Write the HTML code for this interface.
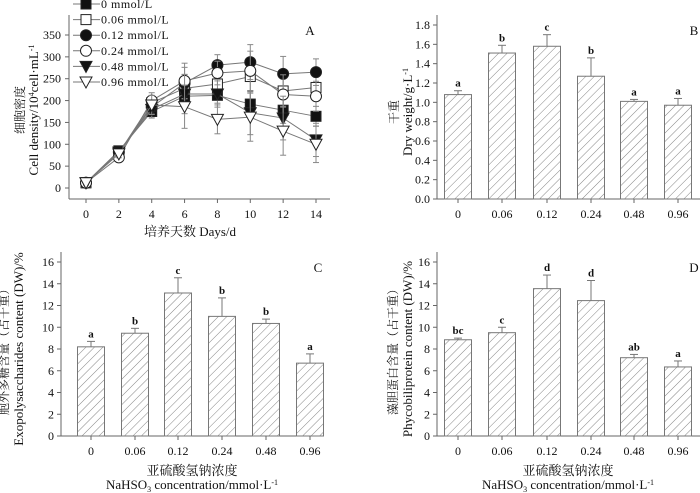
<!DOCTYPE html>
<html><head><meta charset="utf-8"><style>
body{margin:0;background:#fff}
svg{display:block}
text,tspan{fill:#111;font-family:"Liberation Serif","Noto Serif CJK SC",serif}
</style></head><body>
<svg id="s" width="700" height="493" viewBox="0 0 700 493" xmlns="http://www.w3.org/2000/svg">
<defs><pattern id="h" patternUnits="userSpaceOnUse" width="6" height="6" patternTransform="rotate(45)"><line x1="0" y1="0" x2="0" y2="6" stroke="#777" stroke-width="0.9"/></pattern></defs>
</svg>
<script>
const days=[0,2,4,6,8,10,12,14];
const seriesNames=["0 mmol/L","0.06 mmol/L","0.12 mmol/L","0.24 mmol/L","0.48 mmol/L","0.96 mmol/L"];
const s0=[12,85,175,210,212,192,178,164];
const s006=[12,80,195,228,238,255,222,230];
const s012=[12,82,185,240,281,288,261,265];
const s024=[12,70,200,245,263,268,214,210];
const s048=[12,82,180,215,215,172,160,110];
const s096=[12,78,190,186,157,162,130,100];
const errA=[5,8,20,45,30,50,50,38];
const cats=["0","0.06","0.12","0.24","0.48","0.96"];
const dryW=[1.08,1.51,1.58,1.27,1.01,0.97];
const dryErr=[0.04,0.08,0.12,0.19,0.02,0.07];
const dryLet=["a","b","c","b","a","a"];
const eps=[8.2,9.45,13.15,11.0,10.35,6.7];
const epsErr=[0.5,0.45,1.4,1.7,0.4,0.85];
const epsLet=["a","b","c","b","b","a"];
const pc=[8.85,9.5,13.55,12.45,7.2,6.35];
const pcErr=[0.15,0.5,1.25,1.85,0.3,0.55];
const pcLet=["bc","c","d","d","ab","a"];

const S=document.getElementById('s'),NS="http://www.w3.org/2000/svg";
const FF='"Liberation Serif","Noto Serif CJK SC",serif';
function el(t,a,p){const e=document.createElementNS(NS,t);for(const k in a)e.setAttribute(k,a[k]);(p||S).appendChild(e);return e;}
function tx(x,y,s,size,anchor,extra){const e=el('text',Object.assign({x:x,y:y,'font-size':size||12,'text-anchor':anchor||'middle','font-family':FF},extra||{}));e.textContent=s;return e;}
function rich(x,y,parts,size,transform){
 const a={'font-size':size,'text-anchor':'middle','font-family':FF};
 if(transform)a.transform=transform;else{a.x=x;a.y=y;}
 const t=el('text',a);
 parts.forEach(p=>{const ts=el('tspan',{'font-family':FF},t);
  if(p[1]){ts.setAttribute('font-size',Math.round(size*0.6));ts.setAttribute('dy',p[1]);}
  if(p[2])ts.setAttribute('dy',p[2]);
  ts.textContent=p[0];});
 return t;}
const AX="#666";

// Panel A
const gA=el('g',{});


const xA=d=>86+d*(230/14), yA=v=>188-v*(153/350);
el('line',{x1:69,y1:15,x2:69,y2:199,stroke:AX},gA);
el('line',{x1:69,y1:199,x2:330,y2:199,stroke:AX},gA);
for(let v=0;v<=350;v+=50){el('line',{x1:65,y1:yA(v),x2:69,y2:yA(v),stroke:AX},gA);tx(61,yA(v)+4,String(v),12,'end');}
days.forEach(d=>{el('line',{x1:xA(d),y1:199,x2:xA(d),y2:203,stroke:AX},gA);tx(xA(d),218,String(d),12);});
tx(310,35,"A",13);
tx(190,236,"培养天数 Days/d",13);
tx(0,0,"细胞密度",12,'middle',{transform:'translate(24,110) rotate(-90)'});
rich(0,0,[["Cell density/10"],["4","-4"],["cell·mL",null,"4"],["-1","-4"]],13,'translate(38,110) rotate(-90)');
const allS=[s0,s006,s012,s024,s048,s096];
const mk=[["sq",1],["sq",0],["ci",1],["ci",0],["tr",1],["tr",0]];
function marker(x,y,m,g){const f=m[1]?"#111":"#fff";
 if(m[0]=="sq")return el('rect',{x:x-5,y:y-5,width:10,height:10,fill:f,stroke:"#222"},g);
 if(m[0]=="ci")return el('circle',{cx:x,cy:y,r:5.5,fill:f,stroke:"#222"},g);
 return el('polygon',{points:`${x-6},${y-5} ${x+6},${y-5} ${x},${y+6}`,fill:f,stroke:"#222"},g);}
allS.forEach((ser,i)=>{
 const g=el('g',{},gA);
 
 
 el('polyline',{points:ser.map((v,j)=>xA(days[j])+","+yA(v)).join(" "),fill:"none",stroke:"#777"},g);
 ser.forEach((v,j)=>{const e=errA[j]*(0.6+0.1*i);
  el('line',{x1:xA(days[j]),y1:yA(v-e),x2:xA(days[j]),y2:yA(v+e),stroke:"#888"},g);
  el('line',{x1:xA(days[j])-3,y1:yA(v+e),x2:xA(days[j])+3,y2:yA(v+e),stroke:"#888"},g);
  el('line',{x1:xA(days[j])-3,y1:yA(v-e),x2:xA(days[j])+3,y2:yA(v-e),stroke:"#888"},g);});
 ser.forEach((v,j)=>marker(xA(days[j]),yA(v),mk[i],g));
 const ly=4+i*15.6;
 const lg=el('g',{},gA);
 
 
 el('line',{x1:73,y1:ly,x2:100,y2:ly,stroke:"#777"},lg);
 marker(86,ly,mk[i],lg);
 tx(101,ly+4,seriesNames[i],12,'start',{'letter-spacing':'0.5'});
});

// Bar panels
function barPanel(name,ax,y0,ytop,max,step,fmt,vals,errs,lets,cx,label,ylab1,ylab2,yl1x,yl2x,xtitle){
 const g=el('g',{});
 
 
 const y=v=>y0-(v/max)*(y0-ytop);
 el('line',{x1:ax,y1:ytop-10,x2:ax,y2:y0,stroke:AX},g);
 el('line',{x1:ax,y1:y0,x2:ax+263,y2:y0,stroke:AX},g);
 for(let v=0;v<=max+1e-9;v+=step){el('line',{x1:ax-4,y1:y(v),x2:ax,y2:y(v),stroke:AX},g);tx(ax-7,y(v)+4,fmt(v),12,'end');}
 vals.forEach((v,i)=>{const x=cx[i];
  const b=el('rect',{x:x-13.5,y:y(v),width:27,height:y0-y(v),fill:"url(#h)",stroke:"#777"},g);
  
  
  el('line',{x1:x,y1:y(v),x2:x,y2:y(v+errs[i]),stroke:"#777"},g);
  el('line',{x1:x-4,y1:y(v+errs[i]),x2:x+4,y2:y(v+errs[i]),stroke:"#777"},g);
  tx(x,y(v+errs[i])-4,lets[i],11,'middle',{'font-weight':'bold'});
  el('line',{x1:x,y1:y0,x2:x,y2:y0+4,stroke:AX},g);
  tx(x,y0+19,cats[i],12);});
 tx(ax+257,ytop+10,label,13);
 tx(0,0,ylab1,12,'middle',{transform:`translate(${yl1x},${(y0+ytop)/2}) rotate(-90)`});
 rich(0,0,ylab2,13,`translate(${yl2x},${(y0+ytop)/2}) rotate(-90)`);
 if(xtitle){tx(ax+131,y0+39,"亚硫酸氢钠浓度",13);
  rich(ax+131,y0+53,[["NaHSO"],["3","3"],[" concentration/mmol·L",null,"-3"],["-1","-4"]],13);}
}
const cxR=[458,502,547,591,634,678],cxL=[91,135,178,222,266,310];
barPanel('panel-b-dry-weight',437,199,25,1.8,0.2,v=>v.toFixed(1),dryW,dryErr,dryLet,cxR,"B","干重",[["Dry weight/g·L"],["-1","-4"]],398,412,false);
barPanel('panel-c-exopolysaccharides',61,436,262,16,2,v=>String(Math.round(v)),eps,epsErr,epsLet,cxL,"C","胞外多糖含量（占干重）",[["Exopolysaccharides content (DW)/%"]],8,23,true);
barPanel('panel-d-phycobiliprotein',437,436,262,16,2,v=>String(Math.round(v)),pc,pcErr,pcLet,cxR,"D","藻胆蛋白含量（占干重）",[["Phycobiliprotein content (DW)/%"]],397,412,true);
</script>
</body></html>
